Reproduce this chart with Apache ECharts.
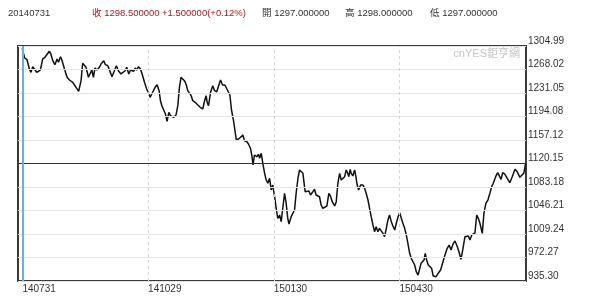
<!DOCTYPE html>
<html><head><meta charset="utf-8">
<script src="https://cdn.jsdelivr.net/npm/echarts@6/dist/echarts.min.js"></script>
<style>html,body{margin:0;padding:0;background:#fff}#c{width:600px;height:304px}</style>
</head><body><div id="c"></div>
<script>
// Header texts
const headerDate = '20140731';
const headerClose = '收 1298.500000';
const headerChange = '+1.500000(+0.12%)';
const headerOpen = '開 1297.000000';
const headerHigh = '高 1298.000000';
const headerLow = '低 1297.000000';
const watermark = 'cnYES鉅亨網';

// Axis ticks
const yTicks = [935.30, 972.27, 1009.24, 1046.21, 1083.18, 1120.15, 1157.12, 1194.08, 1231.05, 1268.02, 1304.99];
const yTickLabels = ['935.30', '972.27', '1009.24', '1046.21', '1083.18', '1120.15', '1157.12', '1194.08', '1231.05', '1268.02', '1304.99'];
const xTickDays = [0, 63, 126, 189];
const xTickLabels = ['140731', '141029', '150130', '150430'];
const cursorDay = 0;
const midLevel = 1120.15;

// [trading day index, close]
const priceSeries = [
 [0,1301.9],[0.3,1295.6],[1.2,1286.1],[2.3,1283.5],[3.5,1268.8],[4.3,1263.6],[5.2,1272.4],[6.0,1268.8],[7.2,1263.6],[8.0,1266.1],
 [9.0,1267.2],[10.2,1284.6],[11.3,1287.2],[12.3,1284.6],[13.5,1296.7],[14.3,1292.4],[15.2,1281.9],[16.3,1275.6],[17.4,1284.6],[18.1,1279.4],
 [19.1,1288.2],[19.9,1281.9],[21.1,1268.8],[22.4,1255.8],[23.6,1251.5],[25.2,1247.9],[26.9,1240.0],[28.2,1233.7],[29.4,1250.4],[30.2,1277.8],
 [31.1,1275.6],[31.9,1271.5],[33.1,1255.8],[34.1,1258.3],[34.8,1267.2],[35.6,1255.8],[36.4,1270.4],[37.4,1267.2],[38.6,1271.5],[39.4,1276.7],
 [40.8,1281.9],[41.6,1275.6],[42.8,1274.0],[43.8,1266.1],[44.9,1256.7],[46.1,1266.1],[47.1,1274.0],[48.1,1266.1],[49.4,1261.0],
 [50.3,1259.9],[51.5,1266.1],[52.3,1271.5],[53.3,1261.0],[54.2,1267.2],[55.0,1268.8],[55.8,1265.2],[56.5,1270.4],[57.2,1267.2],[58.2,1272.4],
 [59.2,1268.8],[60.0,1261.0],[61.2,1247.9],[62.3,1237.4],[63.3,1230.6],[64.0,1224.3],[65.3,1232.2],[66.5,1240.0],[67.5,1244.1],[68.5,1234.7],
 [69.2,1218.9],[69.9,1211.1],[70.9,1208.6],[71.7,1198.0],[72.5,1186.5],[73.4,1200.7],[74.2,1195.4],[75.0,1196.5],[75.9,1192.8],[77.0,1196.5],
 [77.9,1211.1],[78.7,1240.0],[79.5,1255.8],[80.4,1258.3],[81.2,1250.4],[82.0,1245.2],[82.9,1234.7],[83.7,1237.4],[84.6,1226.8],[85.4,1218.9],
 [86.6,1216.4],[87.9,1212.2],[89.1,1208.6],[90.4,1205.9],[91.3,1218.9],[92.1,1226.8],[92.6,1216.4],[93.3,1211.1],[94.3,1232.2],[95.4,1242.5],
 [96.3,1234.7],[97.4,1233.1],[99.3,1251.5],[100.3,1243.6],[101.5,1243.6],[102.3,1238.5],[103.1,1236.9],[104.0,1227.9],[104.8,1204.3],[105.9,1185.9],
 [107.2,1157.1],[108.8,1159.8],[110.5,1165.0],[111.3,1156.0],[112.5,1154.4],[113.3,1150.8],[114.3,1144.1],[115.1,1130.8],[115.6,1117.8],[116.3,1133.5],
 [117.5,1130.8],[118.4,1134.6],[118.9,1128.3],[119.7,1136.2],[120.5,1120.5],[121.4,1104.7],[122.2,1094.2],[123.0,1089.0],[123.9,1096.9],[124.7,1078.5],
 [125.5,1086.3],[126.4,1067.9],[127.2,1049.7],[128.0,1033.9],[128.9,1039.1],[129.7,1028.6],[130.5,1049.7],[131.4,1073.3],[132.2,1057.5],[133.0,1033.9],
 [133.6,1025.0],[134.7,1036.5],[135.6,1033.9],[136.4,1047.0],[137.2,1073.3],[138.1,1096.9],[138.9,1109.9],[139.7,1107.3],[140.6,1104.7],[141.7,1075.8],
 [142.7,1073.3],[143.6,1076.9],[144.4,1070.6],[145.6,1075.8],[146.4,1079.6],[147.2,1070.6],[148.1,1073.3],
 [148.9,1067.9],[149.7,1054.9],[150.6,1049.7],[151.5,1052.2],[152.6,1053.3],[153.6,1073.3],[154.5,1067.9],[155.3,1060.1],[156.5,1053.3],[157.3,1060.1],
 [158.1,1089.0],[159.0,1104.7],[159.8,1094.2],[160.6,1091.5],[161.5,1099.4],[162.3,1109.9],[163.1,1104.7],[163.6,1099.4],[164.3,1111.0],[164.8,1104.7],
 [165.6,1100.5],[166.5,1109.9],[167.0,1102.1],[167.8,1086.3],[168.5,1078.5],[169.5,1086.3],[170.7,1086.3],[171.5,1081.1],[172.3,1073.3],[173.2,1062.7],
 [174.0,1049.7],[174.8,1036.5],[175.7,1023.4],[176.5,1012.9],[177.3,1020.7],[178.2,1012.9],[179.0,1018.2],[179.8,1015.5],[180.7,1010.3],[181.5,1005.0],
 [182.4,1018.2],[183.2,1031.3],[184.0,1039.1],[184.9,1028.6],[185.7,1021.8],[186.6,1015.5],[187.4,1026.1],[188.3,1036.5],[189.1,1042.8],[189.9,1033.9],
 [190.7,1026.1],[191.6,1018.2],[192.4,1007.7],[193.2,994.6],[194.1,978.9],[194.9,971.0],[195.7,973.5],[196.6,960.5],[197.4,949.9],[198.3,944.7],
 [199.1,947.4],[199.8,963.1],[200.6,960.5],[201.3,968.3],[201.9,978.9],[202.6,968.3],[203.4,960.5],[204.3,960.5],[205.1,955.3],[205.9,943.2],
 [207.3,942.1],[208.4,947.4],[209.6,952.6],[210.6,963.1],[211.8,976.2],[212.9,986.7],[213.9,991.9],[214.8,984.1],[216.0,994.6],[216.8,998.2],
 [218.0,989.3],[219.0,978.9],[219.8,969.4],[220.7,984.1],[221.8,1005.0],[222.7,1002.5],[223.5,1006.1],[224.3,999.8],[225.2,1007.7],[226.0,1010.3],
 [226.8,1010.8],[227.7,1039.1],[228.5,1033.9],[229.3,1026.1],[230.5,1010.3],[231.3,1041.8],[232.3,1057.5],[233.3,1062.7],[234.3,1073.3],[235.2,1083.7],
 [236.0,1089.0],[237.2,1099.4],[238.2,1105.7],[239.0,1107.3],[239.9,1095.3],[240.7,1105.7],[241.8,1103.6],[243.0,1096.9],[244.3,1089.9],[245.5,1099.4],
 [246.9,1111.0],[248.0,1107.3],[249.3,1098.4],[250.3,1096.9],[251.3,1104.7],[252.2,1120.5]
];

const FONT = '"Liberation Sans", "Noto Sans CJK TC", sans-serif';
const chart = echarts.init(document.getElementById('c'), null, {renderer: 'canvas'});

const gridLines = yTicks.filter(v => v !== midLevel).map(v => ({yAxis: v, lineStyle: {color: '#e4e4e4', width: 1, type: 'solid'}}));
const vLines = xTickDays.slice(1).map(d => ({xAxis: d, lineStyle: {color: '#d4d4d4', width: 1, type: [3, 3]}}));

function headerText(x, text, color) {
  return {type: 'text', x: x, y: 13, style: {text: text, fill: color, font: '9.5px ' + FONT, textVerticalAlign: 'middle'}};
}

chart.setOption({
  animation: false,
  grid: {left: 18, right: 74, top: 46, bottom: 23, show: true, borderColor: '#3a3a3a', borderWidth: 2, backgroundColor: '#fff'},
  xAxis: {
    type: 'value', min: -2.2, max: 252.4,
    axisLine: {show: false}, axisTick: {show: false}, splitLine: {show: false},
    axisLabel: {
      customValues: xTickDays,
      formatter: v => xTickLabels[xTickDays.indexOf(v)],
      align: 'left', margin: 3, color: '#333', fontSize: 10, fontFamily: FONT
    }
  },
  yAxis: {
    type: 'value', position: 'right', min: yTicks[0], max: yTicks[yTicks.length - 1],
    axisLine: {show: false}, axisTick: {show: false}, splitLine: {show: false},
    axisLabel: {
      customValues: yTicks,
      formatter: v => yTickLabels[yTicks.indexOf(v)],
      margin: 2, verticalAlign: 'bottom', color: '#333', fontSize: 10, fontFamily: FONT
    }
  },
  graphic: [
    headerText(8, headerDate, '#333'),
    headerText(92, headerClose, '#a51c1c'),
    headerText(162, headerChange, '#a51c1c'),
    headerText(262, headerOpen, '#333'),
    headerText(345, headerHigh, '#333'),
    headerText(430, headerLow, '#333'),
    {type: 'text', right: 80, top: 48, style: {text: watermark, fill: '#c4c4c4', font: '11px ' + FONT}}
  ],
  series: [
    {
      type: 'line', data: [], z: 1, silent: true,
      markLine: {
        silent: true, symbol: 'none', label: {show: false},
        data: gridLines.concat(vLines).concat([
          {yAxis: midLevel, lineStyle: {color: '#333', width: 1, type: 'solid'}},
          {xAxis: cursorDay, lineStyle: {color: '#6aaee8', width: 2, type: 'solid'}}
        ])
      }
    },
    {
      type: 'line', data: priceSeries, z: 3, showSymbol: false, silent: true,
      lineStyle: {color: '#111', width: 1.5}
    }
  ]
});
</script>
</body></html>
